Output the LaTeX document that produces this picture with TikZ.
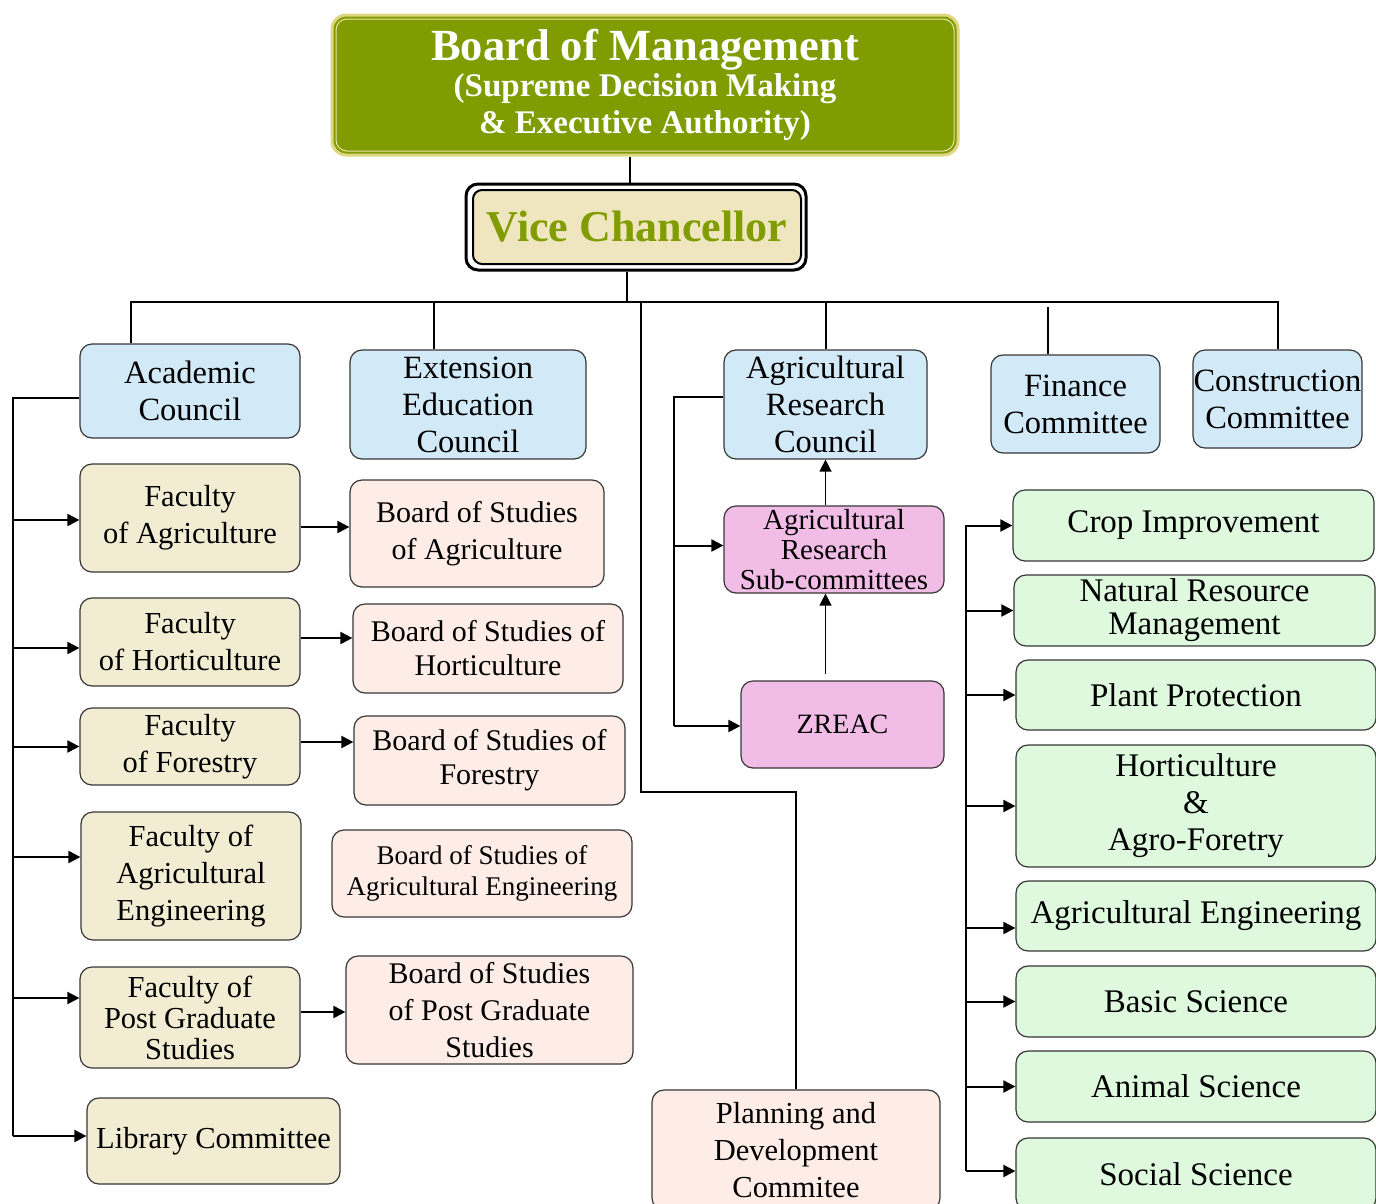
\documentclass[tikz,border=0pt]{standalone}
\usepackage{fontspec}
\setmainfont{Liberation Serif}
\usetikzlibrary{arrows.meta}
\definecolor{bomolive}{RGB}{128,156,0}
\definecolor{bomedge}{RGB}{222,214,128}
\definecolor{vcfill}{RGB}{239,230,192}
\definecolor{cblue}{RGB}{210,233,247}
\definecolor{ctan}{RGB}{242,237,210}
\definecolor{cpeach}{RGB}{253,237,230}
\definecolor{cpink}{RGB}{241,189,230}
\definecolor{cgreen}{RGB}{222,249,222}
\definecolor{cedge}{RGB}{55,55,55}
\begin{document}
\begin{tikzpicture}[x=1pt,y=-1pt,
  box/.style={draw=cedge, line width=1.2pt, rounded corners=12pt, align=center,
    inner sep=0pt, text=black},
  bluebox/.style={box, fill=cblue, font=\fontsize{32.5}{37}\selectfont},
  tanbox/.style={box, fill=ctan, font=\fontsize{30.5}{37}\selectfont},
  peachbox/.style={box, fill=cpeach, font=\fontsize{30}{37}\selectfont},
  pinkbox/.style={box, fill=cpink, font=\fontsize{29}{30}\selectfont},
  greenbox/.style={box, fill=cgreen, font=\fontsize{33}{37}\selectfont},
  conn/.style={line width=2pt, black},
  arr/.style={conn, -{Triangle[length=12pt,width=12pt]}}
]
\path[use as bounding box, clip] (0,0) rectangle (1376,1203);
\fill[white] (0,0) rectangle (1376,1203);

% top
\node[box, draw=bomedge, line width=3pt, fill=bomolive, rounded corners=14pt,
  minimum width=626pt, minimum height=140pt, text=white,
  font=\fontsize{33}{37}\bfseries] (bom) at (645,85)
  {{\fontsize{44.5}{44}\selectfont Board of Management}\\[-1pt]
   (Supreme Decision Making\\ \& Executive Authority)};
\draw[bomedge!70!white, line width=1pt, rounded corners=11pt] (336,19) rectangle (954,151);

\node[box, draw=black, line width=3pt, fill=white, rounded corners=12pt,
  minimum width=340pt, minimum height=86pt] (vcout) at (636,227) {};
\node[box, draw=black, line width=2pt, fill=vcfill, rounded corners=9pt,
  minimum width=328pt, minimum height=74pt, text=bomolive,
  font=\fontsize{44}{45}\bfseries] (vc) at (637,227) {Vice Chancellor};

% councils
\node[bluebox, minimum width=220pt, minimum height=94pt] (acad) at (190,391) {Academic\\Council};
\node[bluebox, minimum width=236pt, minimum height=109pt] (ext) at (468,404.5) {Extension\\Education\\Council};
\node[bluebox, minimum width=203pt, minimum height=109pt] (arc) at (825.5,404.5) {Agricultural\\Research\\Council};
\node[bluebox, minimum width=169pt, minimum height=98pt] (fin) at (1075.5,404) {Finance\\Committee};
\node[bluebox, minimum width=169pt, minimum height=98pt] (cons) at (1277.5,399) {Construction\\Committee};

% faculties
\node[tanbox, minimum width=220pt, minimum height=108pt] (fag) at (190,518) {Faculty\\of Agriculture};
\node[tanbox, minimum width=220pt, minimum height=88pt] (fhort) at (190,642) {Faculty\\of Horticulture};
\node[tanbox, minimum width=220pt, minimum height=77pt] (ffor) at (190,746.5) {Faculty\\of Forestry};
\node[tanbox, minimum width=220pt, minimum height=128pt] (feng) at (191,876) {Faculty of\\Agricultural\\Engineering};
\node[tanbox, minimum width=220pt, minimum height=101pt, font=\fontsize{30.5}{31}\selectfont] (fpg) at (190,1017.5) {Faculty of\\Post Graduate\\Studies};
\node[tanbox, minimum width=253pt, minimum height=86pt] (lib) at (213.5,1141) {Library Committee};

% boards of studies
\node[peachbox, minimum width=254pt, minimum height=107pt] (bag) at (477,533.5) {Board of Studies\\of Agriculture};
\node[peachbox, minimum width=270pt, minimum height=89pt, font=\fontsize{30}{34}\selectfont] (bhort) at (488,648.5) {Board of Studies of\\Horticulture};
\node[peachbox, minimum width=271pt, minimum height=89pt, font=\fontsize{30}{34}\selectfont] (bfor) at (489.5,760.5) {Board of Studies of\\Forestry};
\node[peachbox, minimum width=300pt, minimum height=87pt, font=\fontsize{27}{31}\selectfont] (beng) at (482,873.5) {Board of Studies of\\Agricultural Engineering};
\node[peachbox, minimum width=287pt, minimum height=108pt] (bpg) at (489.5,1010) {Board of Studies\\of Post Graduate\\Studies};
\node[peachbox, minimum width=288pt, minimum height=120pt, font=\fontsize{30.5}{37}\selectfont] (plan) at (796,1150) {Planning and\\Development\\Commitee};

% research
\node[pinkbox, minimum width=220pt, minimum height=87pt] (arsc) at (834,549.5) {Agricultural\\Research\\Sub-committees};
\node[pinkbox, minimum width=203pt, minimum height=87pt, font=\fontsize{28}{30}\selectfont] (zreac) at (842.5,724.5) {ZREAC};

% disciplines
\node[greenbox, minimum width=361pt, minimum height=71pt] (crop) at (1193.5,525.5) {Crop Improvement};
\node[greenbox, minimum width=361pt, minimum height=71pt, font=\fontsize{33}{33}\selectfont] (nrm) at (1194.5,610.5) {Natural Resource\\Management};
\node[greenbox, minimum width=360pt, minimum height=70pt] (plant) at (1196,695) {Plant Protection};
\node[greenbox, minimum width=360pt, minimum height=122pt] (hort) at (1196,806) {Horticulture\\\&\\Agro-Foretry};
\node[greenbox, minimum width=360pt, minimum height=70pt] (geng) at (1196,916) {Agricultural Engineering};
\node[greenbox, minimum width=360pt, minimum height=71pt] (basic) at (1196,1001.5) {Basic Science};
\node[greenbox, minimum width=360pt, minimum height=71pt] (animal) at (1196,1086.5) {Animal Science};
\node[greenbox, minimum width=360pt, minimum height=72pt] (social) at (1196,1174) {Social Science};

% bus coordinates
\coordinate (bT) at (630,0);
\coordinate (bV) at (627,302);
\coordinate (bL) at (131,302);
\coordinate (bR) at (1278,302);
\coordinate (bE) at (434,302);
\coordinate (bF) at (1048,307);
\coordinate (p1) at (641,302);
\coordinate (p2) at (796,792);
\coordinate (lb) at (13,398);
\coordinate (ab) at (674,397);
\coordinate (gb) at (966,525);

% top connectors
\draw[conn] (bom.south -| bT) -- (vcout.north -| bT);
\draw[conn] (bV |- vcout.south) -- (bV);
\draw[conn] (bL |- acad.north) -- (bL) -- (bR) -- (bR |- cons.north);
\draw[conn] (bE) -- (bE |- ext.north);
\draw[conn] (arc.north |- bL) -- (arc.north);
\draw[conn] (bF) -- (bF |- fin.north);
\draw[conn] (p1) |- (p2) -- (plan.north);

% academic bus
\draw[conn] (acad.west |- lb) -- (lb) -- ([yshift=5pt]lib.west -| lb);
\draw[arr] ([yshift=-2pt]fag.west -| lb) -- ([yshift=-2pt]fag.west);
\draw[arr] ([yshift=-6pt]fhort.west -| lb) -- ([yshift=-6pt]fhort.west);
\draw[arr] (lb |- ffor.west) -- (ffor.west);
\draw[arr] ([yshift=19pt]feng.west -| lb) -- ([yshift=19pt]feng.west);
\draw[arr] ([yshift=19.5pt]fpg.west -| lb) -- ([yshift=19.5pt]fpg.west);
\draw[arr] ([yshift=5pt]lib.west -| lb) -- ([yshift=5pt]lib.west);

% faculty to boards
\draw[arr] ([yshift=-9pt]fag.east) -- ([yshift=-9pt]fag.east -| bag.west);
\draw[arr] ([yshift=4pt]fhort.east) -- ([yshift=4pt]fhort.east -| bhort.west);
\draw[arr] ([yshift=4.5pt]ffor.east) -- ([yshift=4.5pt]ffor.east -| bfor.west);
\draw[arr] ([yshift=5.5pt]fpg.east) -- ([yshift=5.5pt]fpg.east -| bpg.west);

% research bus
\draw[conn] (arc.west |- ab) -- (ab) -- ([yshift=-1.5pt]zreac.west -| ab);
\draw[arr] ([yshift=4pt]arsc.west -| ab) -- ([yshift=4pt]arsc.west);
\draw[arr] ([yshift=-1.5pt]zreac.west -| ab) -- ([yshift=-1.5pt]zreac.west);
\draw[arr, line width=1.4pt] (arc.south |- arsc.north) -- (arc.south);
\draw[arr, line width=1.4pt] ([yshift=6pt]zreac.north -| arc.south) -- (arsc.south -| arc.south);

% discipline bus
\draw[conn] (gb) -- ([yshift=3pt]gb |- social.west);
\draw[arr] (gb |- crop.west) -- (crop.west);
\draw[arr] (gb |- nrm.west) -- (nrm.west);
\draw[arr] (gb |- plant.west) -- (plant.west);
\draw[arr] (gb |- hort.west) -- (hort.west);
\draw[arr] ([yshift=-12pt]geng.west -| gb) -- ([yshift=-12pt]geng.west);
\draw[arr] (gb |- basic.west) -- (basic.west);
\draw[arr] (gb |- animal.west) -- (animal.west);
\draw[arr] ([yshift=3pt]social.west -| gb) -- ([yshift=3pt]social.west);
\end{tikzpicture}
\end{document}
